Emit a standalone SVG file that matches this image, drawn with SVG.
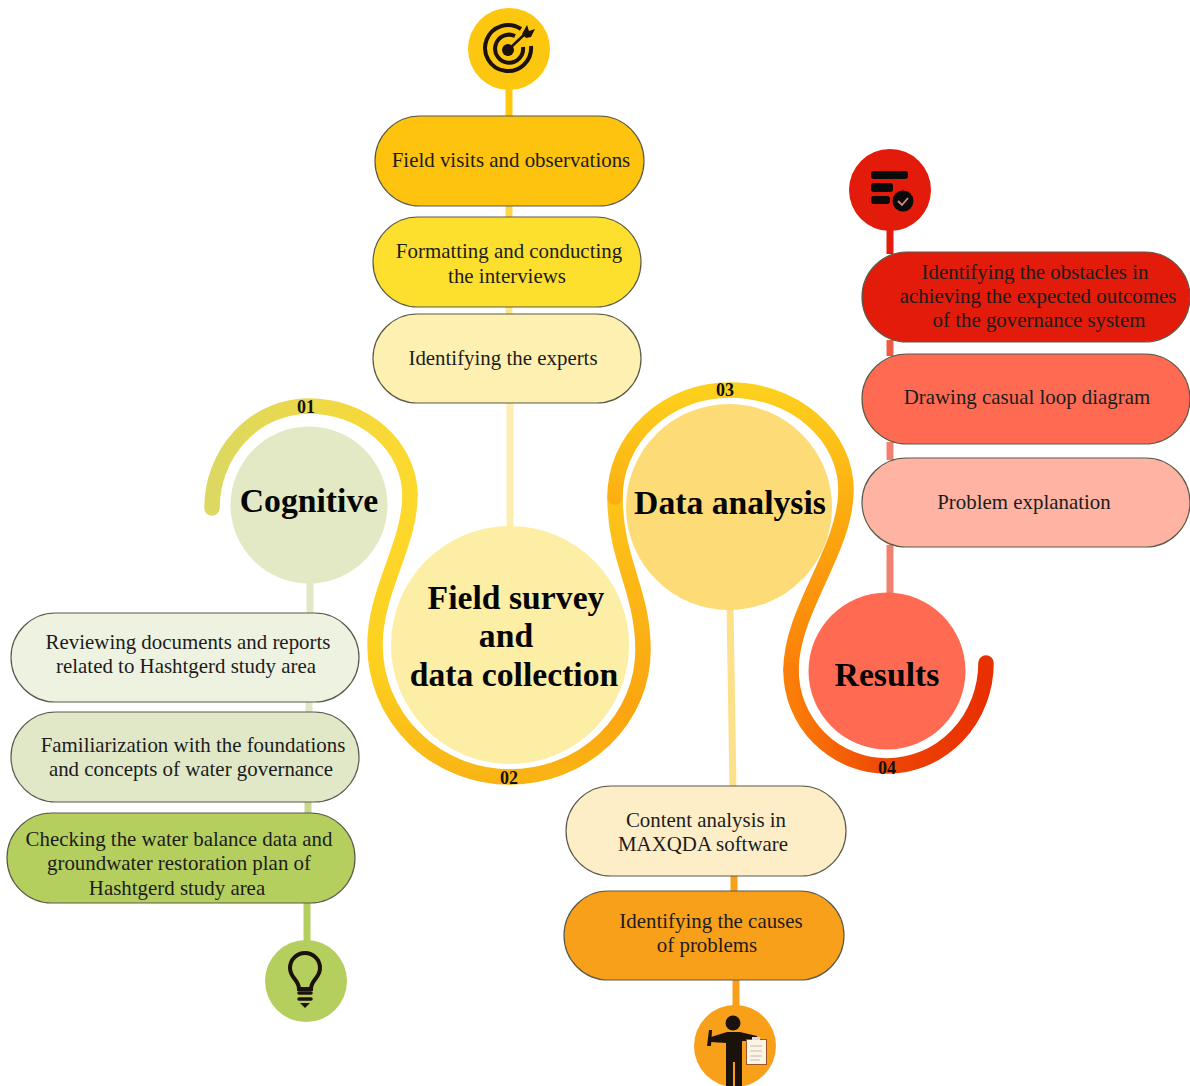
<svg xmlns="http://www.w3.org/2000/svg" width="1190" height="1086" viewBox="0 0 1190 1086">
<style>
text{font-family:"Liberation Serif","Times New Roman",serif;fill:#1c1c1c;text-anchor:middle}
.t{font-size:20.900px}
.h{font-size:33.700px;font-weight:bold;fill:#050505}
.n{font-size:18px;font-weight:bold;fill:#111}
.p{stroke:#5a5a4a;stroke-width:1.2}
.c{fill:none;stroke-width:7}
.r{fill:none;stroke-width:15.500;stroke-linecap:round}
.i{fill:#1c120c}
.o{fill:none;stroke:#1c120c}
</style>
<defs>
<linearGradient id="g1" gradientUnits="userSpaceOnUse" x1="212" y1="0" x2="410" y2="0"><stop offset="0" stop-color="#dcd862"/><stop offset="1" stop-color="#fdd92e"/></linearGradient>
<linearGradient id="g2" gradientUnits="userSpaceOnUse" x1="0" y1="495" x2="0" y2="780"><stop offset="0" stop-color="#fdd92e"/><stop offset=".6" stop-color="#fdd01e"/><stop offset="1" stop-color="#f9b414"/></linearGradient>
<linearGradient id="g3" gradientUnits="userSpaceOnUse" x1="0" y1="780" x2="0" y2="497"><stop offset="0" stop-color="#f9b414"/><stop offset=".25" stop-color="#fba510"/><stop offset="1" stop-color="#fdc51a"/></linearGradient>
<linearGradient id="g4" gradientUnits="userSpaceOnUse" x1="0" y1="390" x2="0" y2="675"><stop offset="0" stop-color="#fdd01e"/><stop offset=".4" stop-color="#fcae10"/><stop offset="1" stop-color="#fb7e08"/></linearGradient>
<linearGradient id="g5" gradientUnits="userSpaceOnUse" x1="791" y1="0" x2="986" y2="0"><stop offset="0" stop-color="#fb7e08"/><stop offset=".5" stop-color="#ee4506"/><stop offset="1" stop-color="#e83000"/></linearGradient>
</defs>
<rect width="1190" height="1086" fill="#fff"/>
<g id="connectors">
<path class="c" stroke="#fdc70f" d="M509 88V118"/>
<path class="c" stroke="#fdd64a" d="M509 204V219"/>
<path class="c" stroke="#fde88a" d="M509 305V316"/>
<path class="c" stroke="#fdeeb0" d="M510 401V530"/>
<path class="c" stroke="#e21b0a" d="M890 228V254"/>
<path class="c" stroke="#ee5a42" d="M890 340V356"/>
<path class="c" stroke="#f0806f" d="M890 442V460M890 545V596"/>
<path class="c" stroke="#e2e8c6" d="M310 582V615M309 700V714"/>
<path class="c" stroke="#c8d88e" d="M308 800V815"/>
<path class="c" stroke="#b5cf5e" d="M307 901V942"/>
<path class="c" stroke="#fde08a" d="M730 607L733 788"/>
<path class="c" stroke="#f9a01b" d="M734 874V893M736 978V1008"/>
<g id="ribbon">
<path class="r" stroke="url(#g1)" d="M212 508A97 102 0 0 1 309 406A101 90 0 0 1 410 495"/>
<path class="r" stroke="url(#g2)" d="M410 495C410 545 375 590 375 645A135 132 0 0 0 510 777"/>
<path class="r" stroke="url(#g3)" d="M510 777A133 127 0 0 0 643 650C643 590 615 560 615 497"/>
<path class="r" stroke="url(#g4)" d="M615 497A115 107 0 0 1 730 390A116 100 0 0 1 846 490C846 550 791 610 791 670"/>
<path class="r" stroke="url(#g5)" d="M791 670A96 96 0 0 0 887 766A99 103 0 0 0 986 663"/>
</g>
</g>
<g id="cognitive"><circle cx="309" cy="505" r="78.500" fill="#e2e9c4"/><text class="h" x="309" y="512">Cognitive</text><text class="n" x="306" y="413">01</text></g>
<g id="field-survey"><circle cx="510" cy="645" r="119" fill="#fdeea6"/><text class="h" x="516" y="609">Field survey</text><text class="h" x="506" y="647">and</text><text class="h" x="514" y="686">data collection</text><text class="n" x="509" y="784">02</text></g>
<g id="data-analysis"><circle cx="729" cy="507" r="103" fill="#fddc78"/><text class="h" x="730" y="514">Data analysis</text><text class="n" x="725" y="396">03</text></g>
<g id="results"><circle cx="887" cy="671" r="78.500" fill="#ff6b52"/><text class="h" x="887" y="686">Results</text><text class="n" x="887" y="774">04</text></g>

<g id="p-field-visits"><rect class="p" x="375" y="116" width="269" height="90" rx="45" fill="#fdc30f"/><text class="t" x="511" y="167">Field visits and observations</text></g>
<g id="p-formatting"><rect class="p" x="373" y="217" width="268" height="90" rx="45" fill="#fde02e"/><text class="t" x="509" y="258">Formatting and conducting</text><text class="t" x="507" y="283">the interviews</text></g>
<g id="p-experts"><rect class="p" x="373" y="314" width="268" height="89" rx="44.500" fill="#fdf0b0"/><text class="t" x="503" y="365">Identifying the experts</text></g>

<g id="p-obstacles"><rect class="p" x="862" y="252" width="328" height="90" rx="45" fill="#e21b0a"/><text class="t" x="1035" y="279">Identifying the obstacles in</text><text class="t" x="1038" y="303">achieving the expected outcomes</text><text class="t" x="1039" y="327">of the governance system</text></g>
<g id="p-loop"><rect class="p" x="862" y="354" width="328" height="90" rx="45" fill="#ff6b52"/><text class="t" x="1027" y="404">Drawing casual loop diagram</text></g>
<g id="p-problem"><rect class="p" x="862" y="458" width="328" height="89" rx="44.500" fill="#ffb3a3"/><text class="t" x="1024" y="509">Problem explanation</text></g>

<g id="p-reviewing"><rect class="p" x="11" y="613" width="348" height="89" rx="44.500" fill="#eef2e0"/><text class="t" x="188" y="649">Reviewing documents and reports</text><text class="t" x="186" y="673">related to Hashtgerd study area</text></g>
<g id="p-familiarization"><rect class="p" x="11" y="712" width="348" height="90" rx="45" fill="#e0e8c8"/><text class="t" x="193" y="752">Familiarization with the foundations</text><text class="t" x="191" y="776">and concepts of water governance</text></g>
<g id="p-checking"><rect class="p" x="7" y="813" width="348" height="90" rx="45" fill="#b5cf5e"/><text class="t" x="179" y="846">Checking the water balance data and</text><text class="t" x="179" y="870">groundwater restoration plan of</text><text class="t" x="177" y="895">Hashtgerd study area</text></g>

<g id="p-content"><rect class="p" x="566" y="786" width="280" height="90" rx="45" fill="#fdeec8"/><text class="t" x="706" y="827">Content analysis in</text><text class="t" x="703" y="851">MAXQDA software</text></g>
<g id="p-causes"><rect class="p" x="564" y="891" width="280" height="89" rx="44.500" fill="#f9a01b"/><text class="t" x="711" y="928">Identifying the causes</text><text class="t" x="707" y="952">of problems</text></g>

<g id="icon-target"><circle cx="509" cy="49" r="41" fill="#fdc70f"/>
<path class="o" stroke-width="4" d="M521 29A23 23 0 1 0 531 46"/>
<path class="o" stroke-width="4" d="M515 36A14 14 0 1 0 523 47"/>
<circle class="i" cx="508" cy="50" r="6"/>
<path class="o" stroke-width="2.500" d="M508 50L526 33"/>
<path class="i" d="M522 34L527 25L529 31L535 29L531 37L526 38Z"/></g>

<g id="icon-results"><circle cx="890" cy="190" r="41" fill="#e21b0a"/>
<rect x="871" y="171" width="37" height="8" rx="3" fill="#0a0a0a"/>
<rect x="871" y="183" width="22" height="9" rx="3" fill="#0a0a0a"/>
<rect x="871" y="196" width="19" height="8" rx="3" fill="#0a0a0a"/>
<circle cx="903" cy="201" r="10.500" fill="#0a0a0a"/>
<path fill="none" stroke="#d88" stroke-width="1.800" d="M898 201L902 205L908 198"/></g>

<g id="icon-bulb"><circle cx="306" cy="981" r="41" fill="#b5cf5e"/>
<path class="o" stroke-width="4" stroke-linecap="round" d="M299 989C299 980 290 978 290 968A15 15 0 0 1 320 968C320 978 311 980 311 989Z"/>
<path class="o" stroke-width="3.500" stroke-linecap="round" d="M299 993H311M299 999H311"/>
<path class="i" d="M300 1003H310L305 1008Z"/></g>

<g id="icon-person"><circle cx="735" cy="1046" r="41" fill="#f9a01b"/>
<circle class="i" cx="733" cy="1023" r="7.500"/>
<path class="i" d="M727 1032H740L757 1036V1041L742 1041V1086H735V1062H733V1086H726V1043L711 1042V1037Z"/>
<path class="i" d="M709 1030L712 1030L711 1046L707 1046Z"/>
<rect x="746.500" y="1039.500" width="20" height="25" fill="#fdf4e4" stroke="#a0522d" stroke-width="1"/>
<path fill="none" stroke="#bbb" stroke-width="1" d="M750 1046H762M750 1051H762M750 1056H762M750 1060H760"/>
<rect x="752" y="1037" width="8" height="3" fill="#ddd"/></g>
</svg>
